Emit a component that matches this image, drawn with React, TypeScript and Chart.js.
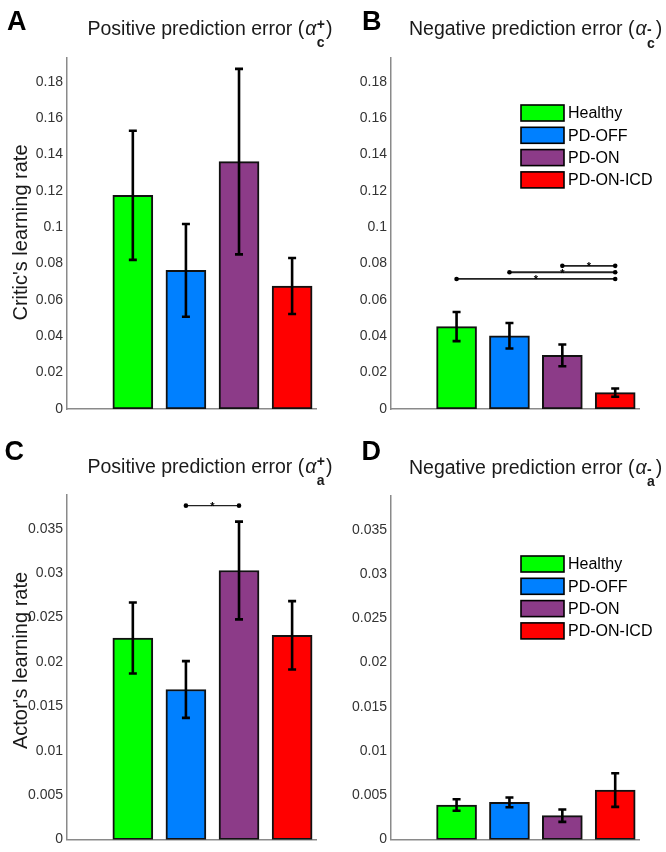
import React, { useEffect, useRef } from 'react';
import { Chart, registerables } from 'chart.js';

Chart.register(...registerables);

const FONT = '"Liberation Sans", Arial, Helvetica, sans-serif';

// ---------- data ----------
const categories = ['Healthy', 'PD-OFF', 'PD-ON', 'PD-ON-ICD'];
const positions = [1, 2, 3, 4];
const barColors = ['#00ff00', '#0080ff', '#8c3b88', '#ff0000'];

const criticPosValues = [0.1175, 0.0762, 0.136, 0.0676];
const criticPosErrors = [0.0355, 0.0255, 0.051, 0.0154];

const criticNegValues = [0.0453, 0.0403, 0.0295, 0.009];
const criticNegErrors = [0.008, 0.007, 0.006, 0.0023];

const actorPosValues = [0.0227, 0.0169, 0.0303, 0.023];
const actorPosErrors = [0.004, 0.0032, 0.0055, 0.00385];

const actorNegValues = [0.0039, 0.0042, 0.0027, 0.0056];
const actorNegErrors = [0.00065, 0.00055, 0.0007, 0.0019];

const criticTicks = [0, 0.02, 0.04, 0.06, 0.08, 0.1, 0.12, 0.14, 0.16, 0.18];
const actorTicks = [0, 0.005, 0.01, 0.015, 0.02, 0.025, 0.03, 0.035];

const criticNegSigFrom = [1, 2, 3];
const criticNegSigTo = [4, 4, 4];
const criticNegSigY = [0.0715, 0.0752, 0.0787];

const actorPosSigFrom = [2];
const actorPosSigTo = [3];
const actorPosSigY = [0.0376];

// ---------- panel settings ----------
type Panel = {
  letter: string;
  letterX: number;
  letterY: number;
  title: string;
  sup: string;
  sub: string;
  supDy: number;
  titleX: number;
  titleY: number;
  values: number[];
  errors: number[];
  yMax: number;
  ticks: number[];
  yLabel?: string;
  yLabelCY?: number;
  legendTop?: number;
  sigFrom?: number[];
  sigTo?: number[];
  sigY?: number[];
  sigWidth?: number;
  yWidth: number;
  padTop: number;
  padRight: number;
  xHeight: number;
};

const panels: Panel[] = [
  {
    letter: 'A', letterX: 7, letterY: 29.5,
    title: 'Positive prediction error (', sup: '+', sub: 'c', supDy: -6,
    titleX: 87.5, titleY: 34.5,
    values: criticPosValues, errors: criticPosErrors,
    yMax: 0.193, ticks: criticTicks,
    yLabel: "Critic's learning rate", yLabelCY: 232.5,
    yWidth: 67, padTop: 58, padRight: 17, xHeight: 17,
  },
  {
    letter: 'B', letterX: 29, letterY: 29.5,
    title: 'Negative prediction error (', sup: '-', sub: 'c', supDy: -1,
    titleX: 76, titleY: 35,
    values: criticNegValues, errors: criticNegErrors,
    yMax: 0.193, ticks: criticTicks,
    legendTop: 105,
    sigFrom: criticNegSigFrom, sigTo: criticNegSigTo, sigY: criticNegSigY, sigWidth: 1.8,
    yWidth: 58, padTop: 58, padRight: 27, xHeight: 17,
  },
  {
    letter: 'C', letterX: 4.5, letterY: 33.5,
    title: 'Positive prediction error (', sup: '+', sub: 'a', supDy: -7,
    titleX: 87.5, titleY: 46.5,
    values: actorPosValues, errors: actorPosErrors,
    yMax: 0.0388, ticks: actorTicks,
    yLabel: "Actor's learning rate", yLabelCY: 234.5,
    sigFrom: actorPosSigFrom, sigTo: actorPosSigTo, sigY: actorPosSigY, sigWidth: 1.1,
    yWidth: 67, padTop: 69, padRight: 17, xHeight: 7,
  },
  {
    letter: 'D', letterX: 28.5, letterY: 34,
    title: 'Negative prediction error (', sup: '-', sub: 'a', supDy: 0,
    titleX: 76, titleY: 47.5,
    values: actorNegValues, errors: actorNegErrors,
    yMax: 0.0388, ticks: actorTicks,
    legendTop: 130,
    yWidth: 58, padTop: 70, padRight: 27, xHeight: 6.5,
  },
];

function fmt(v: number) {
  return String(+Number(v).toFixed(4));
}

function makeDecorPlugin(p: Panel) {
  return {
    id: 'decor' + p.letter,
    afterDatasetsDraw(chart: any) {
      const ctx: CanvasRenderingContext2D = chart.ctx;
      const xs = chart.scales.x;
      const ys = chart.scales.y;
      ctx.save();

      // error bars
      ctx.strokeStyle = '#000';
      ctx.lineWidth = 2.6;
      ctx.lineCap = 'butt';
      p.values.forEach((v, i) => {
        const x = xs.getPixelForValue(positions[i]);
        const yt = ys.getPixelForValue(v + p.errors[i]);
        const yb = ys.getPixelForValue(v - p.errors[i]);
        ctx.beginPath();
        ctx.moveTo(x, yt);
        ctx.lineTo(x, yb);
        ctx.moveTo(x - 4, yt);
        ctx.lineTo(x + 4, yt);
        ctx.moveTo(x - 4, yb);
        ctx.lineTo(x + 4, yb);
        ctx.stroke();
      });

      // significance brackets
      if (p.sigFrom && p.sigTo && p.sigY) {
        p.sigFrom.forEach((f, i) => {
          const x1 = xs.getPixelForValue(f);
          const x2 = xs.getPixelForValue(p.sigTo![i]);
          const y = ys.getPixelForValue(p.sigY![i]);
          ctx.strokeStyle = '#222';
          ctx.lineWidth = p.sigWidth || 1.5;
          ctx.beginPath();
          ctx.moveTo(x1, y);
          ctx.lineTo(x2, y);
          ctx.stroke();
          ctx.fillStyle = '#000';
          [x1, x2].forEach((xx) => {
            ctx.beginPath();
            ctx.arc(xx, y, 2.3, 0, Math.PI * 2);
            ctx.fill();
          });
          ctx.font = `bold 11px ${FONT}`;
          ctx.textAlign = 'center';
          ctx.textBaseline = 'middle';
          ctx.fillText('*', (x1 + x2) / 2, y + 1.5);
        });
      }
      ctx.restore();
    },
    afterDraw(chart: any) {
      const ctx: CanvasRenderingContext2D = chart.ctx;
      ctx.save();
      // panel letter
      ctx.fillStyle = '#000';
      ctx.font = `bold 27px ${FONT}`;
      ctx.textAlign = 'left';
      ctx.textBaseline = 'alphabetic';
      ctx.fillText(p.letter, p.letterX, p.letterY);

      // title with alpha, sup and sub
      ctx.fillStyle = '#1a1a1a';
      ctx.font = `19.5px ${FONT}`;
      let x = p.titleX;
      ctx.fillText(p.title, x, p.titleY);
      x += ctx.measureText(p.title).width;
      ctx.font = `italic 19.5px ${FONT}`;
      ctx.fillText('α', x + 1, p.titleY);
      x += ctx.measureText('α').width + 1.5;
      ctx.font = `bold 14px ${FONT}`;
      const wSup = ctx.measureText(p.sup).width;
      const wSub = ctx.measureText(p.sub).width;
      ctx.fillText(p.sup, x, p.titleY + p.supDy);
      ctx.fillText(p.sub, x, p.titleY + 12.5);
      x += Math.max(wSup, wSub) + 1;
      ctx.font = `19.5px ${FONT}`;
      ctx.fillText(')', x, p.titleY);

      // y axis label
      if (p.yLabel) {
        ctx.save();
        ctx.translate(26.5, p.yLabelCY || 0);
        ctx.rotate(-Math.PI / 2);
        ctx.font = `20px ${FONT}`;
        ctx.fillStyle = '#1a1a1a';
        ctx.textAlign = 'center';
        ctx.textBaseline = 'alphabetic';
        ctx.fillText(p.yLabel, 0, 0);
        ctx.restore();
      }

      // legend
      if (p.legendTop !== undefined) {
        const bx = 188;
        const bw = 43;
        const bh = 16;
        const pitch = 22.3;
        categories.forEach((c, i) => {
          const by = p.legendTop! + i * pitch;
          ctx.fillStyle = barColors[i];
          ctx.fillRect(bx, by, bw, bh);
          ctx.strokeStyle = '#000';
          ctx.lineWidth = 1.6;
          ctx.strokeRect(bx, by, bw, bh);
          ctx.fillStyle = '#000';
          ctx.font = `16px ${FONT}`;
          ctx.textAlign = 'left';
          ctx.textBaseline = 'middle';
          ctx.fillText(c, bx + bw + 4, by + bh / 2 + 1);
        });
      }
      ctx.restore();
    },
  };
}

function PanelChart({ p, left, top }: { p: Panel; left: number; top: number }) {
  const ref = useRef<HTMLCanvasElement>(null);
  useEffect(() => {
    if (!ref.current) return;
    const chart = new Chart(ref.current, {
      type: 'bar',
      data: {
        datasets: [
          {
            data: positions.map((x, i) => ({ x, y: p.values[i] })),
            backgroundColor: barColors,
            borderColor: '#111',
            borderWidth: 2,
            borderSkipped: false,
            barThickness: 40,
          } as any,
        ],
      },
      options: {
        responsive: false,
        animation: false,
        events: [],
        layout: { padding: { top: p.padTop, right: p.padRight, left: 0, bottom: 0 } },
        plugins: { legend: { display: false }, tooltip: { enabled: false }, title: { display: false } },
        scales: {
          x: {
            type: 'linear',
            min: -0.24,
            max: 4.45,
            offset: false,
            grid: { display: false },
            border: { display: true, color: '#8a8a8a', width: 1.5 },
            ticks: { display: false },
            afterFit: (s: any) => {
              s.height = p.xHeight;
            },
          },
          y: {
            min: 0,
            max: p.yMax,
            grid: { display: false, drawTicks: false },
            border: { display: true, color: '#8a8a8a', width: 1.5 },
            ticks: {
              color: '#333',
              font: { family: FONT, size: 14 },
              padding: 4,
              autoSkip: false,
              callback: (v: any) => fmt(Number(v)),
            },
            afterBuildTicks: (s: any) => {
              s.ticks = p.ticks.map((value) => ({ value }));
            },
            afterFit: (s: any) => {
              s.width = p.yWidth;
            },
          },
        },
      } as any,
      plugins: [makeDecorPlugin(p)],
    });
    return () => chart.destroy();
  }, [p]);
  return (
    <canvas
      ref={ref}
      width={333}
      height={426}
      style={{ position: 'absolute', left, top, width: 333, height: 426 }}
    />
  );
}

export default function App() {
  return (
    <div style={{ position: 'absolute', left: 0, top: 0, width: 666, height: 852, background: '#fff', overflow: 'hidden' }}>
      <PanelChart p={panels[0]} left={0} top={0} />
      <PanelChart p={panels[1]} left={333} top={0} />
      <PanelChart p={panels[2]} left={0} top={426} />
      <PanelChart p={panels[3]} left={333} top={426} />
    </div>
  );
}
